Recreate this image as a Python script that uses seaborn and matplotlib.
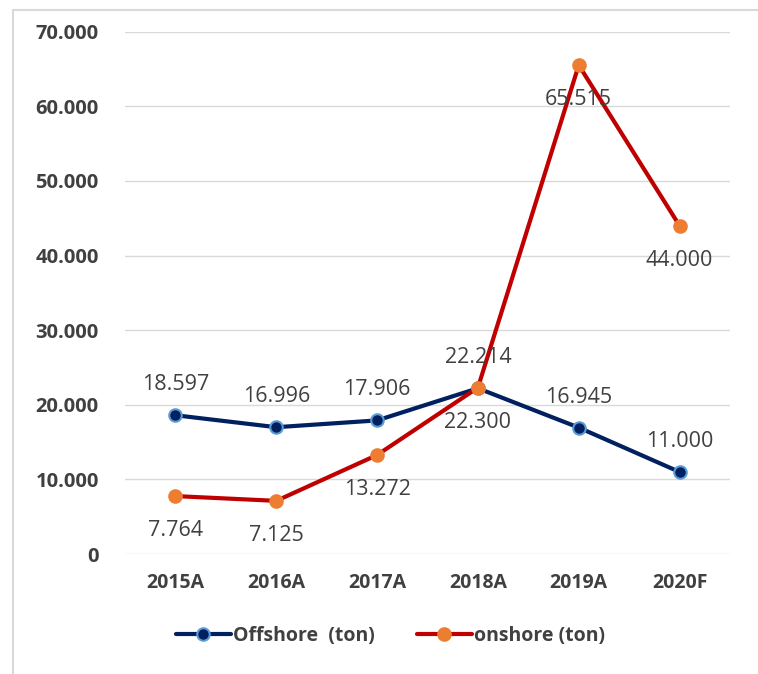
import pandas as pd
import numpy as np
import seaborn as sns
from matplotlib import pyplot as plt
from matplotlib.ticker import FuncFormatter
from matplotlib.lines import Line2D

years = ['2015A', '2016A', '2017A', '2018A', '2019A', '2020F']
offshore = [18597, 16996, 17906, 22214, 16945, 11000]
onshore = [7764, 7125, 13272, 22300, 65515, 44000]
series_names = ['Offshore  (ton)', 'onshore (ton)']

df = pd.DataFrame({'Year': years * 2,
                   'Value': offshore + onshore,
                   'Series': [series_names[0]] * 6 + [series_names[1]] * 6})

sns.set_theme(style='white')
plt.rcParams['font.family'] = ['Open Sans', 'DejaVu Sans']

fig = plt.figure(figsize=(7.58, 6.74), dpi=100)
ax = fig.add_axes([0.165, 0.178, 0.798, 0.775])

line_col = {series_names[0]: '#002060', series_names[1]: '#C00000'}
mk_face = {series_names[0]: '#002060', series_names[1]: '#ED7D31'}
mk_edge = {series_names[0]: '#5B9BD5', series_names[1]: '#ED7D31'}

for name in series_names:
    sub = df[df['Series'] == name]
    sns.lineplot(data=sub, x='Year', y='Value', ax=ax, color=line_col[name],
                 lw=3, marker='o', markersize=9, markerfacecolor=mk_face[name],
                 markeredgecolor=mk_edge[name], markeredgewidth=1.5, zorder=3)

# data labels: offshore above, onshore below
for i, v in enumerate(offshore):
    ax.annotate(f'{v:,.0f}'.replace(',', '.'), (i, v), textcoords='offset points',
                xytext=(0, 22), ha='center', va='center', fontsize=15.5, color='#404040')
for i, v in enumerate(onshore):
    ax.annotate(f'{v:,.0f}'.replace(',', '.'), (i, v), textcoords='offset points',
                xytext=(0, -25), ha='center', va='center', fontsize=15.5, color='#404040')

ax.set_ylim(0, 70000)
ax.set_xlim(-0.5, 5.5)
ax.set_yticks(np.arange(0, 70001, 10000))
ax.yaxis.set_major_formatter(FuncFormatter(lambda v, p: f'{v:,.0f}'.replace(',', '.')))
ax.grid(axis='y', color='#D9D9D9', lw=1)
ax.grid(axis='x', visible=False)
for s in ax.spines.values():
    s.set_visible(False)
ax.set_xlabel('')
ax.set_ylabel('')
ax.tick_params(axis='y', length=0, pad=19, labelsize=14.5, labelcolor='#404040')
ax.tick_params(axis='x', length=0, pad=14, labelsize=14, labelcolor='#404040')
for t in ax.get_xticklabels() + ax.get_yticklabels():
    t.set_fontweight('bold')

handles = [Line2D([0], [0], color=line_col[n], lw=3, marker='o', markersize=9,
                  markerfacecolor=mk_face[n], markeredgecolor=mk_edge[n],
                  markeredgewidth=1.5) for n in series_names]
leg = fig.legend(handles, series_names, loc='center', bbox_to_anchor=(0.515, 0.056),
                 ncol=2, frameon=False, handlelength=2.8, handletextpad=0.1,
                 columnspacing=2.2, prop={'size': 14, 'weight': 'bold'})
for t in leg.get_texts():
    t.set_color('#404040')

# chart frame border (left and top visible)
fig.add_artist(Line2D([0.017, 0.017], [0, 0.985], color='#D9D9D9', lw=1.5))
fig.add_artist(Line2D([0.017, 1.0], [0.985, 0.985], color='#D9D9D9', lw=1.5))

fig.savefig('out.png', dpi=100)
